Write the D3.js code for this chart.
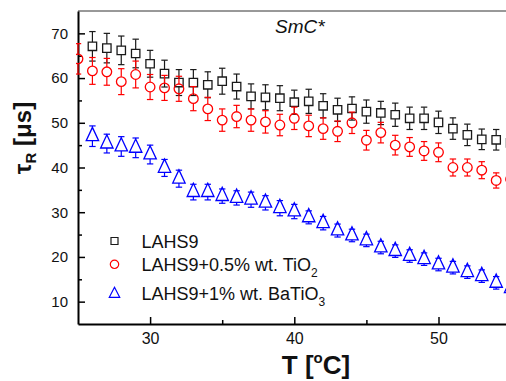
<!DOCTYPE html>
<html>
<head>
<meta charset="utf-8">
<script src="https://cdn.jsdelivr.net/npm/d3@7"></script>
<style>
  body { margin: 0; background: #fff; }
  svg { display: block; font-family: "Liberation Sans", Arial, sans-serif; }
</style>
</head>
<body>
<div id="chart"></div>
<script>
// temperatures [°C]
const tempsLAHS9 = [26,27,28,29,30,31,32,33,34,35,36,37,38,39,40,41,42,43,44,45,46,47,48,49,50,51,52,53,54,55];
const tempsTiO2  = [25,26,27,28,29,30,31,32,33,34,35,36,37,38,39,40,41,42,43,44,45,46,47,48,49,50,51,52,53,54,55];
const tempsBaTiO3 = [26,27,28,29,30,31,32,33,34,35,36,37,38,39,40,41,42,43,44,45,46,47,48,49,50,51,52,53,54,55];

// tau_R [us]
const tauLAHS9 = [67.1,66.7,66.2,65.5,63.2,61.0,59.0,59.0,58.5,59.3,58.1,55.9,55.7,55.5,54.6,
                  54.8,53.8,52.9,53.2,52.5,52.2,51.8,51.0,51.0,50.1,48.7,47.3,46.3,46.2,45.5];
const errLAHS9 = [3.3,3.3,3.2,3.2,3.0,3.0,2.9,2.9,2.9,2.9,2.8,2.8,2.8,2.8,2.7,
                  2.7,2.7,2.6,2.6,2.6,2.6,2.6,2.5,2.5,2.5,2.4,2.4,2.3,2.3,2.3];

const tauTiO2 = [64.3,61.6,61.4,59.2,60.8,58.0,57.8,57.6,55.4,53.1,50.6,51.4,50.6,50.2,49.5,51.0,
                 49.3,48.7,48.1,50.0,46.1,47.8,45.0,44.6,43.7,43.4,40.0,40.0,39.4,37.1,37.4];
const errTiO2 = [3.4,3.0,3.0,2.9,3.0,2.8,2.8,2.8,2.7,2.6,2.5,2.5,2.5,2.5,2.4,2.5,
                 2.4,2.4,2.3,2.4,2.2,2.3,2.2,2.1,2.1,2.1,1.9,1.9,1.9,1.7,1.8];

const tauBaTiO3 = [47.0,45.35,44.7,44.4,42.9,39.9,37.5,34.5,34.5,33.6,33.2,32.8,32.1,30.9,30.15,
                   28.85,27.55,25.9,24.8,23.7,22.1,21.3,20.2,19.5,18.3,17.6,16.6,15.7,14.2,13.0];
const errBaTiO3 = [2.3,2.1,2.2,2.2,2.1,1.9,1.9,1.75,1.75,1.6,1.6,1.7,1.6,1.7,1.6,
                   1.45,1.5,1.45,1.4,1.4,1.4,1.4,1.4,1.4,1.4,1.4,1.4,1.4,1.4,1.4];

const xMajorTicks = [30, 40, 50];
const xMinorTicks = [35, 45, 55];
const yMajorTicks = [10, 20, 30, 40, 50, 60, 70];
const yMinorTicks = [15, 25, 35, 45, 55, 65];

const seriesNames = ["LAHS9", "LAHS9+0.5% wt. TiO", "LAHS9+1% wt. BaTiO"];
const seriesSubs = ["", "2", "3"];

const width = 506, height = 381;
const margin = { top: 11, left: 78, bottom: 324 };

const svg = d3.select("#chart").append("svg")
    .attr("width", width)
    .attr("height", height);

const xScale = d3.scaleLinear().domain([25, 56]).range([margin.left, margin.left + 31 * 14.42]);
const yScale = d3.scaleLinear().domain([5, 75]).range([margin.bottom, margin.top]);

svg.append("clipPath").attr("id", "plotclip")
  .append("rect")
    .attr("x", margin.left - 2)
    .attr("y", margin.top)
    .attr("width", width - margin.left + 2)
    .attr("height", margin.bottom - margin.top);

// top frame line
svg.append("line")
    .attr("x1", margin.left).attr("x2", width)
    .attr("y1", margin.top).attr("y2", margin.top)
    .attr("stroke", "#333").attr("stroke-width", 1);

// axes
const axisY = svg.append("g")
    .attr("transform", `translate(${margin.left},0)`)
    .call(d3.axisLeft(yScale).tickValues(yMajorTicks).tickSizeInner(-7).tickSizeOuter(0).tickPadding(10));
svg.append("g")
    .attr("transform", `translate(${margin.left},0)`)
    .call(d3.axisLeft(yScale).tickValues(yMinorTicks).tickSizeInner(-4).tickSizeOuter(0).tickFormat(""))
    .select(".domain").remove();

const axisX = svg.append("g")
    .attr("transform", `translate(0,${margin.bottom})`)
    .call(d3.axisBottom(xScale).tickValues(xMajorTicks).tickSizeInner(-7).tickSizeOuter(0).tickPadding(9));
svg.append("g")
    .attr("transform", `translate(0,${margin.bottom})`)
    .call(d3.axisBottom(xScale).tickValues(xMinorTicks).tickSizeInner(-4).tickSizeOuter(0).tickFormat(""))
    .select(".domain").remove();

svg.selectAll(".domain").attr("stroke", "#000").attr("stroke-width", 2);
svg.selectAll(".tick line").attr("stroke", "#000").attr("stroke-width", 1.5);
axisY.selectAll("text").attr("font-size", 15).attr("fill", "#111").attr("font-family", "Liberation Sans, Arial, sans-serif");
axisX.selectAll("text").attr("font-size", 16).attr("fill", "#111").attr("font-family", "Liberation Sans, Arial, sans-serif");

const squarePath = s => `M${-s},${-s}H${s}V${s}H${-s}Z`;
const circlePath = r => `M${-r},0A${r},${r} 0 1,0 ${r},0A${r},${r} 0 1,0 ${-r},0Z`;
const trianglePath = (w, up, down) => `M0,${-up}L${w},${down}L${-w},${down}Z`;

// error bars start at the edge of the symbol (gapUp / gapDown), caps always drawn
function drawSeries(temps, vals, errs, color, shape, gapUp, gapDown) {
  const g = svg.append("g").attr("clip-path", "url(#plotclip)");
  const pts = temps.map((t, i) => ({ t: t, v: vals[i], e: errs[i] }));
  const capW = 3.2;

  const eb = g.selectAll(".eb").data(pts).enter().append("g")
      .attr("stroke", color).attr("stroke-width", 1.2).attr("fill", "none");
  eb.filter(d => yScale(d.v) - yScale(d.v + d.e) > gapUp).append("line")
      .attr("x1", d => xScale(d.t)).attr("x2", d => xScale(d.t))
      .attr("y1", d => yScale(d.v + d.e)).attr("y2", d => yScale(d.v) - gapUp);
  eb.filter(d => yScale(d.v - d.e) - yScale(d.v) > gapDown).append("line")
      .attr("x1", d => xScale(d.t)).attr("x2", d => xScale(d.t))
      .attr("y1", d => yScale(d.v) + gapDown).attr("y2", d => yScale(d.v - d.e));
  eb.append("line")
      .attr("x1", d => xScale(d.t) - capW).attr("x2", d => xScale(d.t) + capW)
      .attr("y1", d => yScale(d.v + d.e)).attr("y2", d => yScale(d.v + d.e));
  eb.append("line")
      .attr("x1", d => xScale(d.t) - capW).attr("x2", d => xScale(d.t) + capW)
      .attr("y1", d => yScale(d.v - d.e)).attr("y2", d => yScale(d.v - d.e));

  g.selectAll(".mk").data(pts).enter().append("path")
      .attr("d", shape)
      .attr("transform", d => `translate(${xScale(d.t)},${yScale(d.v)})`)
      .attr("fill", "none")
      .attr("stroke", color)
      .attr("stroke-width", 1.3);
}

drawSeries(tempsLAHS9, tauLAHS9, errLAHS9, "#1a1a1a", squarePath(4.2), 4.2, 4.2);
drawSeries(tempsTiO2, tauTiO2, errTiO2, "#ff0000", circlePath(4.8), 4.8, 4.8);
drawSeries(tempsBaTiO3, tauBaTiO3, errBaTiO3, "#0000ff", trianglePath(6.2, 8.8, 4.4), 8.8, 4.4);

// axis titles
const yTitle = svg.append("text")
    .attr("transform", "translate(31,138) rotate(-90)")
    .attr("text-anchor", "middle")
    .attr("font-size", 24)
    .attr("font-weight", "bold")
    .attr("fill", "#111");
yTitle.append("tspan").text("τ");
yTitle.append("tspan").attr("font-size", 15).attr("dy", 5).text("R");
yTitle.append("tspan").attr("dy", -5).text(" [μs]");

const xTitle = svg.append("text")
    .attr("x", 316).attr("y", 374)
    .attr("text-anchor", "middle")
    .attr("font-size", 26)
    .attr("font-weight", "bold")
    .attr("fill", "#111");
xTitle.append("tspan").text("T [");
xTitle.append("tspan").attr("font-size", 15).attr("dy", -11).text("o");
xTitle.append("tspan").attr("dy", 11).text("C]");

// phase label
svg.append("text")
    .attr("x", 275).attr("y", 33)
    .attr("font-size", 19)
    .attr("font-style", "italic")
    .attr("fill", "#111")
    .text("SmC*");

// legend
const legendColors = ["#1a1a1a", "#ff0000", "#0000ff"];
const legendShapes = [squarePath(3.5), circlePath(4.2), trianglePath(5.2, 6.2, 3.8)];
const legendMarkY = [241, 264.3, 293.5];
const legendTextY = [248, 271, 300];
seriesNames.forEach((name, i) => {
  svg.append("path")
      .attr("d", legendShapes[i])
      .attr("transform", `translate(114.5,${legendMarkY[i]})`)
      .attr("fill", "none")
      .attr("stroke", legendColors[i])
      .attr("stroke-width", 1.2);
  const t = svg.append("text")
      .attr("x", 141.5).attr("y", legendTextY[i])
      .attr("font-size", 18)
      .attr("fill", "#111");
  t.append("tspan").text(name);
  if (seriesSubs[i]) t.append("tspan").attr("font-size", 12).attr("dy", 6).text(seriesSubs[i]);
});
</script>
</body>
</html>
